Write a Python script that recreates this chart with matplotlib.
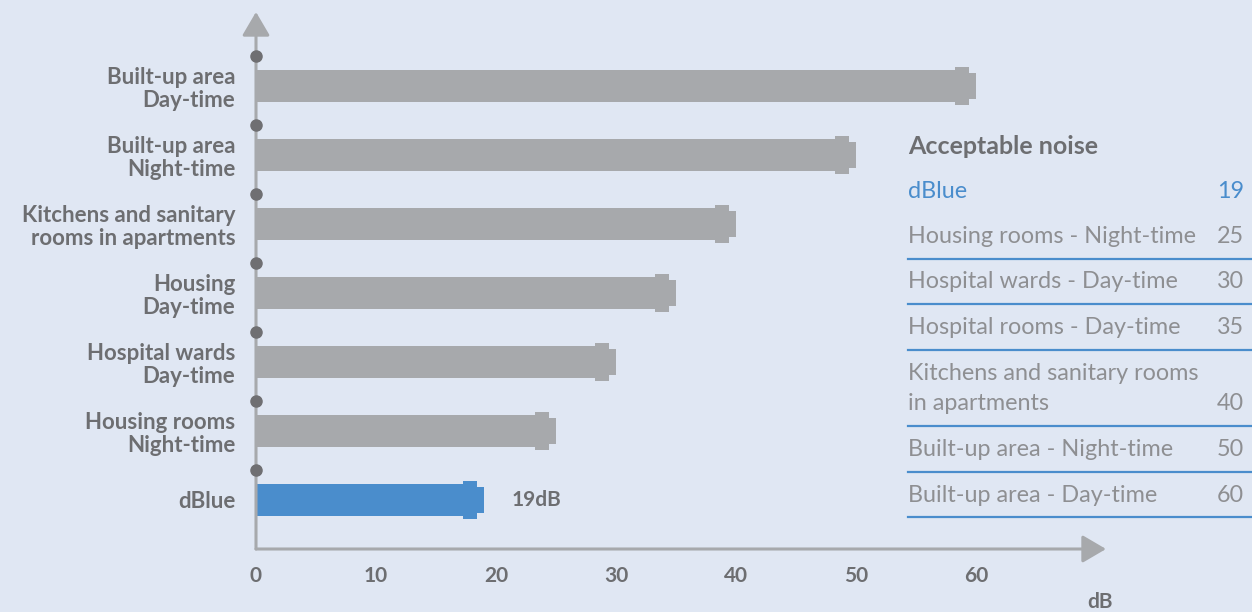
import matplotlib
matplotlib.use("Agg")
import matplotlib.pyplot as plt
from matplotlib.lines import Line2D
from matplotlib.patches import Rectangle

# ---------------- data ----------------
categories = ["dBlue", "Housing rooms\nNight-time", "Hospital wards\nDay-time",
              "Housing\nDay-time", "Kitchens and sanitary\nrooms in apartments",
              "Built-up area\nNight-time", "Built-up area\nDay-time"]
values_db = [19, 25, 30, 35, 40, 50, 60]
x_ticks = [0, 10, 20, 30, 40, 50, 60]

table_title = "Acceptable noise"
table_labels = ["dBlue", "Housing rooms - Night-time", "Hospital wards - Day-time",
                "Hospital rooms - Day-time", "Kitchens and sanitary rooms\nin apartments",
                "Built-up area - Night-time", "Built-up area - Day-time"]
table_values = [19, 25, 30, 35, 40, 50, 60]

# ---------------- style ----------------
BG = "#e0e7f3"
GREY_BAR = "#a7a9ac"
BLUE = "#4a8dcc"
TXT = "#6d6e71"
TXT_LIGHT = "#8e8f92"
FONT = "Lato"

W, H = 1252, 612
fig = plt.figure(figsize=(W / 100, H / 100), dpi=100, facecolor=BG)

def fx(px):
    return px / W

def fy(py):
    return 1 - py / H

# axes: x from 256px (0 dB) to 1106px (arrow tip), 12 px per dB
PX_PER_DB = 12.0
x_left, x_right = 256, 1106
y_top, y_bot = 12, 549
row0_y, pitch = 500, 69
ax = fig.add_axes([fx(x_left), fy(y_bot), (x_right - x_left) / W, (y_bot - y_top) / H])
ax.set_facecolor("none")
ax.set_xlim(0, (x_right - x_left) / PX_PER_DB)
ax.set_ylim(-(y_bot - row0_y) / pitch, (row0_y - y_top) / pitch)
for s in ax.spines.values():
    s.set_visible(False)

bar_h = 32 / pitch
cap_h = 38 / pitch
tip_h = 26 / pitch
cap_w = 14 / PX_PER_DB
tip_w = 7 / PX_PER_DB

for i, (v, cat) in enumerate(zip(values_db, categories)):
    col = BLUE if i == 0 else GREY_BAR
    ax.barh(i, v - tip_w, height=bar_h, left=0, color=col, zorder=2)
    ax.add_patch(Rectangle((v - tip_w - cap_w, i - cap_h / 2), cap_w, cap_h,
                           color=col, zorder=3, lw=0))
    ax.add_patch(Rectangle((v - tip_w, i - tip_h / 2), tip_w, tip_h,
                           color=col, zorder=3, lw=0))

# value label for dBlue
ax.text(values_db[0] + 28 / PX_PER_DB, 0, f"{values_db[0]}dB", ha="left", va="center",
        fontsize=15, fontweight="bold", color=TXT, family=FONT)

# axes arrows
arrow = dict(arrowstyle="-|>,head_length=1.45,head_width=0.85", color=GREY_BAR,
             lw=2.2, shrinkA=0, shrinkB=0, mutation_scale=10)
ylo, yhi = ax.get_ylim()
xlo, xhi = ax.get_xlim()
ax.annotate("", xy=(0, yhi), xytext=(0, ylo), arrowprops=arrow, zorder=4,
            annotation_clip=False)
ax.annotate("", xy=(xhi, ylo), xytext=(0, ylo), arrowprops=arrow, zorder=4,
            annotation_clip=False)

# dots on y axis
dot_y = [i + 0.44 for i in range(len(values_db))]
ax.plot([0] * len(dot_y), dot_y, "o", color="#6f6f72", ms=8, zorder=5, clip_on=False)

# ticks
ax.set_yticks(range(len(categories)))
ax.set_yticklabels(categories, fontsize=16, fontweight="bold", color=TXT, family=FONT,
                   linespacing=1.1)
ax.tick_params(axis="y", length=0, pad=15)
ax.set_xticks(x_ticks)
ax.set_xticklabels([str(t) for t in x_ticks], fontsize=15, fontweight="bold",
                   color=TXT, family=FONT)
ax.tick_params(axis="x", length=0, pad=12)

fig.text(fx(1100), fy(602), "dB", ha="center", va="center", fontsize=15,
         fontweight="bold", color=TXT, family=FONT)

# ---------------- table ----------------
tx, tr = 908, 1244
fig.text(fx(tx), fy(146), table_title, ha="left", va="center", fontsize=18,
         fontweight="bold", color=TXT, family=FONT)

row_y = 191
row_pitch = 45.5
two_line_extra = 31
for i, (lab, val) in enumerate(zip(table_labels, table_values)):
    col = BLUE if i == 0 else TXT_LIGHT
    nlines = lab.count("\n") + 1
    last_y = row_y + (nlines - 1) * two_line_extra
    mid_y = (row_y + last_y) / 2
    fig.text(fx(tx), fy(mid_y), lab, ha="left", va="center", fontsize=16.8,
             fontweight="normal", color=col, family=FONT, linespacing=1.5)
    fig.text(fx(tr), fy(last_y), str(val), ha="right", va="center", fontsize=16.8,
             fontweight="normal", color=col, family=FONT)
    if i > 0:
        ly = last_y + 22
        fig.add_artist(Line2D([fx(tx), 1.0], [fy(ly), fy(ly)], color=BLUE, lw=1.6,
                              transform=fig.transFigure))
    row_y = last_y + row_pitch

fig.savefig("out.png", dpi=100, facecolor=BG)
